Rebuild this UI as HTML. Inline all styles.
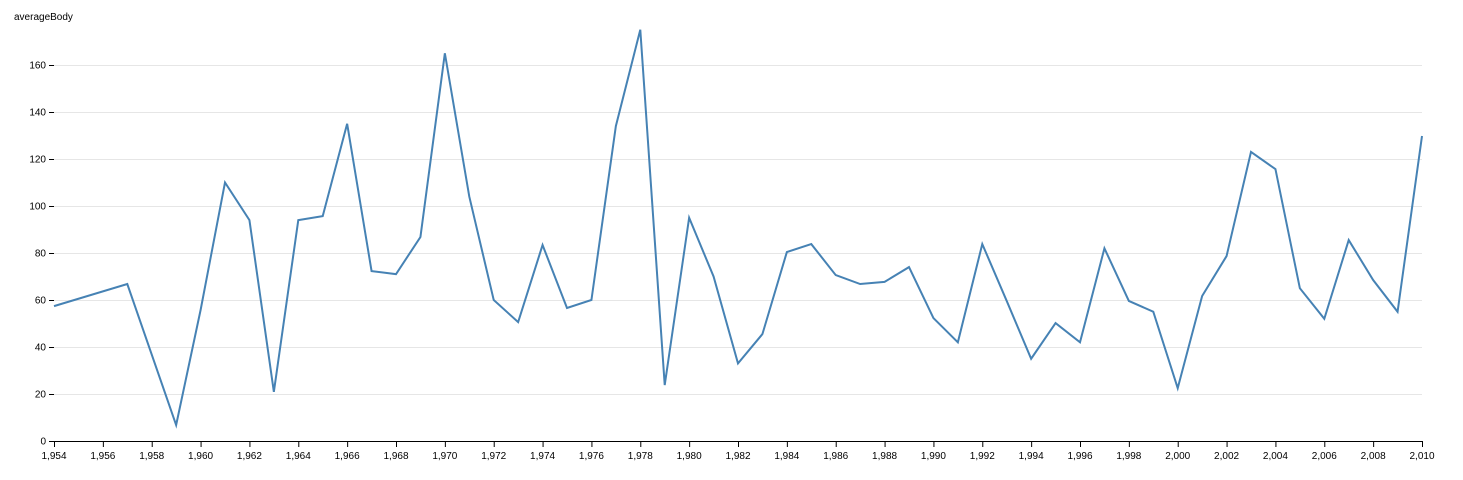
<!DOCTYPE html>
<html><head><meta charset="utf-8"><style>
body{margin:0;background:#fff;}
text{font-family:"Liberation Sans",sans-serif;font-size:10px;fill:#000;}
</style></head><body>
<svg id="chart" width="1463" height="475" xmlns="http://www.w3.org/2000/svg">
<text x="14" y="20">averageBody</text>
<g id="grid"></g><g id="yaxis"></g><g id="xaxis"></g><g id="series"></g>
</svg>
<script>
const years=[1954,1957,1959,1960,1961,1962,1963,1964,1965,1966,1967,1968,1969,1970,1971,1972,1973,1974,1975,1976,1977,1978,1979,1980,1981,1982,1983,1984,1985,1986,1987,1988,1989,1990,1991,1992,1993,1994,1995,1996,1997,1998,1999,2000,2001,2002,2003,2004,2005,2006,2007,2008,2009,2010];
const values=[57.4,66.8,6.8,55.7,110,94,20.9,94,95.7,135,72.3,71,86.8,165,104,60,50.6,83.4,56.6,60,134,175,23.8,95,70,33,45.5,80.4,83.8,70.6,66.8,67.7,74,52.3,42,83.8,59.6,35,50.2,42,82,59.6,55,22.5,61.7,78.7,123,115.7,65,52,85.5,68.5,55,129.8];
const yTicks=[0,20,40,60,80,100,120,140,160];
const xMin=1954,xMax=2010,x0=54,x1=1422,y0=441,yPer=376/160;
const X=v=>x0+(v-xMin)*(x1-x0)/(xMax-xMin);
const Y=v=>y0-v*yPer;
const NS="http://www.w3.org/2000/svg";
function mk(tag,attrs,parent){const e=document.createElementNS(NS,tag);for(const k in attrs)e.setAttribute(k,attrs[k]);document.getElementById(parent).appendChild(e);return e;}
yTicks.forEach(t=>{
  const g=mk('line',{x1:x0,x2:x1,y1:Y(t)+0.5,y2:Y(t)+0.5,stroke:'#e6e6e6'},'grid');
  
  
  mk('line',{x1:x0-5,x2:x0,y1:Y(t)+0.5,y2:Y(t)+0.5,stroke:'#000'},'yaxis');
  const l=mk('text',{x:x0-8,y:Y(t)+3.5,'text-anchor':'end'},'yaxis');
  l.textContent=t;
  
  
});
mk('line',{x1:x0,x2:x1,y1:y0+0.5,y2:y0+0.5,stroke:'#000'},'xaxis');
for(let yr=xMin;yr<=xMax;yr+=2){
  mk('line',{x1:X(yr)+0.5,x2:X(yr)+0.5,y1:y0,y2:y0+6,stroke:'#000'},'xaxis');
  const l=mk('text',{x:X(yr),y:y0+18,'text-anchor':'middle'},'xaxis');
  l.textContent=String(yr).replace(/(\d)(\d{3})$/,'$1,$2');
  
  
}
const p=mk('path',{d:years.map((yr,i)=>(i?'L':'M')+X(yr)+','+Y(values[i])).join(''),fill:'none',stroke:'#4682b4','stroke-width':2},'series');


</script>
</body></html>
